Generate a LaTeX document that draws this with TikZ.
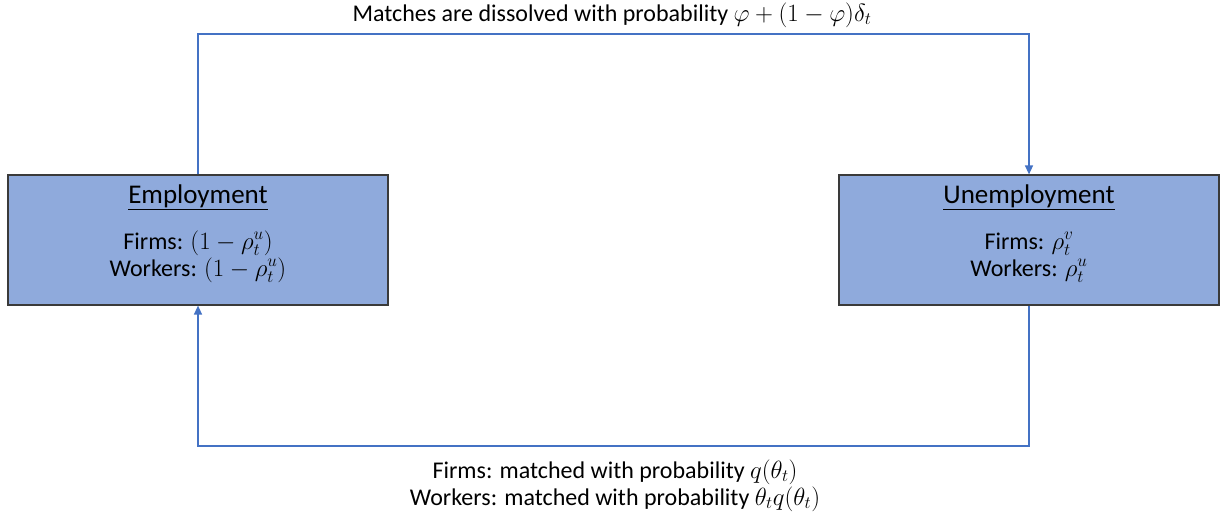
\documentclass[tikz,border=0pt]{standalone}
\usepackage{fontspec}
\setmainfont{Carlito}
\usetikzlibrary{arrows.meta}
\definecolor{boxfill}{HTML}{8FAADC}
\definecolor{boxline}{HTML}{3A3A3A}
\definecolor{conncol}{HTML}{4472C4}
\tikzset{
  statebox/.style={draw=boxline, line width=1.2pt, fill=boxfill, minimum width=380pt, minimum height=130pt, inner sep=0pt},
  conn/.style={draw=conncol, line width=1.4pt, -{Triangle[length=9pt,width=8pt]}},
  title/.style={font=\fontsize{27}{32}\selectfont, inner sep=0pt},
  body/.style={font=\fontsize{24}{28}\selectfont, inner sep=0pt, anchor=base},
}
\begin{document}
\begin{tikzpicture}[x=1pt,y=-1pt]
\useasboundingbox (0,0) rectangle (1228,520);
\node[statebox] (E) at (198,240) {};
\node[statebox] (U) at (1029,240) {};
\node[title] (Et) at (198,197) {\underline{Employment}};
\node[body] (Ef) at (198,249) {Firms: $(1-\rho_t^u)$};
\node[body] (Ew) at (198,276) {Workers: $(1-\rho_t^u)$};
\node[title] (Ut) at (1029,197) {\underline{Unemployment}};
\node[body] (Uf) at (1029,249) {Firms: $\rho_t^v$};
\node[body] (Uw) at (1029,276) {Workers: $\rho_t^u$};
\node[body] (top) at (612,21) {Matches are dissolved with probability $\varphi+(1-\varphi)\delta_t$};
\node[body] (bot1) at (615,478) {Firms: matched with probability $q(\theta_t)$};
\node[body] (bot2) at (615,505) {Workers: matched with probability $\theta_t q(\theta_t)$};
\coordinate (tc) at (612,34);
\coordinate (bc) at (612,446);
\draw[conn] (E.north) |- (tc) -| (U.north);
\draw[conn] (U.south) |- (bc) -| (E.south);
\end{tikzpicture}
\end{document}
